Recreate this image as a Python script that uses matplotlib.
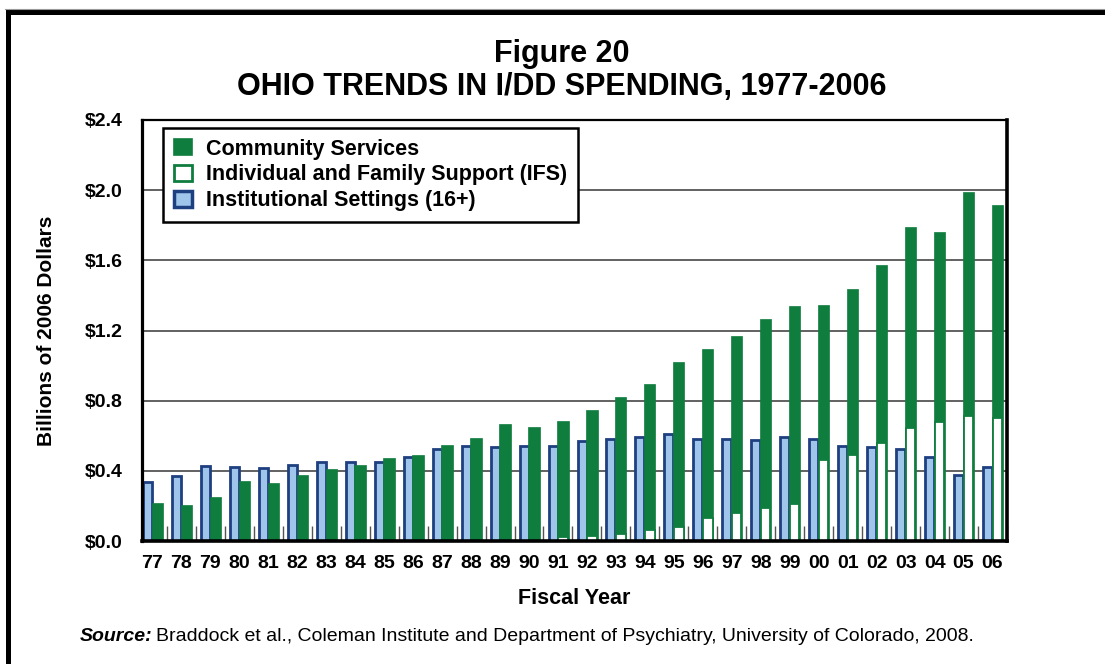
import numpy as np
import matplotlib
matplotlib.use("Agg")
import matplotlib.pyplot as plt
from matplotlib.patches import Patch
from matplotlib.lines import Line2D

# -----------------------------
# Data (billions of 2006 dollars)
# -----------------------------
years = ["77", "78", "79", "80", "81", "82", "83", "84", "85", "86",
         "87", "88", "89", "90", "91", "92", "93", "94", "95", "96",
         "97", "98", "99", "00", "01", "02", "03", "04", "05", "06"]

institutional = [0.335, 0.372, 0.429, 0.422, 0.418, 0.431, 0.450, 0.450, 0.449, 0.479,
                 0.526, 0.542, 0.536, 0.543, 0.540, 0.568, 0.580, 0.593, 0.609, 0.584,
                 0.583, 0.578, 0.595, 0.583, 0.542, 0.534, 0.523, 0.481, 0.378, 0.420]

community = [0.215, 0.205, 0.251, 0.340, 0.331, 0.374, 0.409, 0.431, 0.473, 0.490,
             0.545, 0.585, 0.665, 0.650, 0.686, 0.745, 0.821, 0.894, 1.019, 1.093,
             1.167, 1.268, 1.340, 1.345, 1.439, 1.572, 1.792, 1.762, 1.990, 1.914]

ifs = [0.0, 0.0, 0.0, 0.0, 0.0, 0.0, 0.0, 0.0, 0.0, 0.0,
       0.0, 0.0, 0.0, 0.008, 0.025, 0.030, 0.042, 0.061, 0.080, 0.133,
       0.161, 0.186, 0.213, 0.460, 0.488, 0.561, 0.642, 0.677, 0.715, 0.703]

y_ticks = [0.0, 0.4, 0.8, 1.2, 1.6, 2.0, 2.4]
y_tick_labels = ["$0.0", "$0.4", "$0.8", "$1.2", "$1.6", "$2.0", "$2.4"]

# -----------------------------
# Style
# -----------------------------
GREEN = "#0F7D3E"
BLUE_FILL = "#9FC5EB"
BLUE_EDGE = "#1E3F80"
FONT = "Liberation Sans"

plt.rcParams["font.family"] = [FONT, "DejaVu Sans"]

fig = plt.figure(figsize=(11.05, 6.64), dpi=100)
ax = fig.add_axes([0.1285, 0.1852, 0.7828, 0.6341])

x = np.arange(len(years))
ifs_arr = np.array(ifs)
has_ifs = ifs_arr > 0

ax.bar(x - 0.17, institutional, width=0.31, color=BLUE_FILL, edgecolor=BLUE_EDGE,
       linewidth=2.0, zorder=3)
ax.bar(x + 0.17, community, width=0.39, color=GREEN, edgecolor=GREEN,
       linewidth=0.5, zorder=3)
ax.bar(x[has_ifs] + 0.17, ifs_arr[has_ifs], width=0.33, color="white", edgecolor=GREEN,
       linewidth=1.3, zorder=4)

ax.set_xlim(-0.36, 29.48)
ax.set_ylim(0, 2.4)

ax.set_yticks(y_ticks)
ax.set_yticklabels(y_tick_labels, fontsize=14, fontweight="bold")
ax.set_xticks(x)
ax.set_xticklabels(years, fontsize=14, fontweight="bold")
ax.set_xticks(x + 0.5, minor=True)
ax.tick_params(axis="y", length=0, pad=14)
ax.tick_params(axis="x", which="major", length=0, pad=10)
ax.tick_params(axis="x", which="minor", direction="in", length=11, width=1, color="#555555")

ax.yaxis.grid(True, color="#555555", linewidth=1.3, zorder=0)
ax.set_axisbelow(True)

for side, lw in [("left", 2.3), ("bottom", 2.6), ("right", 2.6), ("top", 1.6)]:
    ax.spines[side].set_linewidth(lw)
    ax.spines[side].set_color("black")
    ax.spines[side].set_zorder(6)

ax.set_ylabel("Billions of 2006 Dollars", fontsize=15, fontweight="bold")
ax.yaxis.set_label_coords(-0.099, 0.5)
ax.set_xlabel("Fiscal Year", fontsize=15.5, fontweight="bold")
ax.xaxis.set_label_coords(0.5, -0.112)

# Legend
handles = [
    Patch(facecolor=GREEN, edgecolor=GREEN, linewidth=1.2),
    Patch(facecolor="white", edgecolor=GREEN, linewidth=2.0),
    Patch(facecolor=BLUE_FILL, edgecolor=BLUE_EDGE, linewidth=2.5),
]
labels = ["Community Services", "Individual and Family Support (IFS)",
          "Institutional Settings (16+)"]
leg = ax.legend(handles, labels, loc="upper left", bbox_to_anchor=(0.0243, 0.981),
                borderaxespad=0, prop={"family": FONT, "weight": "bold", "size": 15.5},
                frameon=True, fancybox=False, edgecolor="black", framealpha=1,
                handlelength=0.85, handleheight=0.75, handletextpad=0.65,
                labelspacing=0.22, borderpad=0.5)
leg.get_frame().set_linewidth(1.8)
leg.set_zorder(7)

# Titles
fig.text(0.5086, 0.9187, "Figure 20", ha="center", va="center",
         fontsize=22, fontweight="bold")
fig.text(0.5086, 0.869, "OHIO TRENDS IN I/DD SPENDING, 1977-2006", ha="center",
         va="center", fontsize=22, fontweight="bold")

# Source line
src1 = fig.text(0.0724, 0.0346, "Source:", ha="left", va="baseline", fontsize=14,
                fontweight="bold", fontstyle="italic")
renderer = fig.canvas.get_renderer()
bb = src1.get_window_extent(renderer=renderer)
fig.text(bb.x1 / fig.bbox.width + 0.003, 0.0346,
         "Braddock et al., Coleman Institute and Department of Psychiatry, University of Colorado, 2008.",
         ha="left", va="baseline", fontsize=14)

# Outer frame (cropped on right and bottom)
fig.add_artist(Line2D([0.0068, 0.0068, 1.05], [-0.05, 0.9812, 0.9812],
                      transform=fig.transFigure, color="black", linewidth=3.6,
                      solid_joinstyle="miter"))
fig.add_artist(Line2D([0.0045, 1.05], [0.9865, 0.9865], transform=fig.transFigure,
                      color="#999999", linewidth=0.8))

fig.savefig("out.png", dpi=100)
